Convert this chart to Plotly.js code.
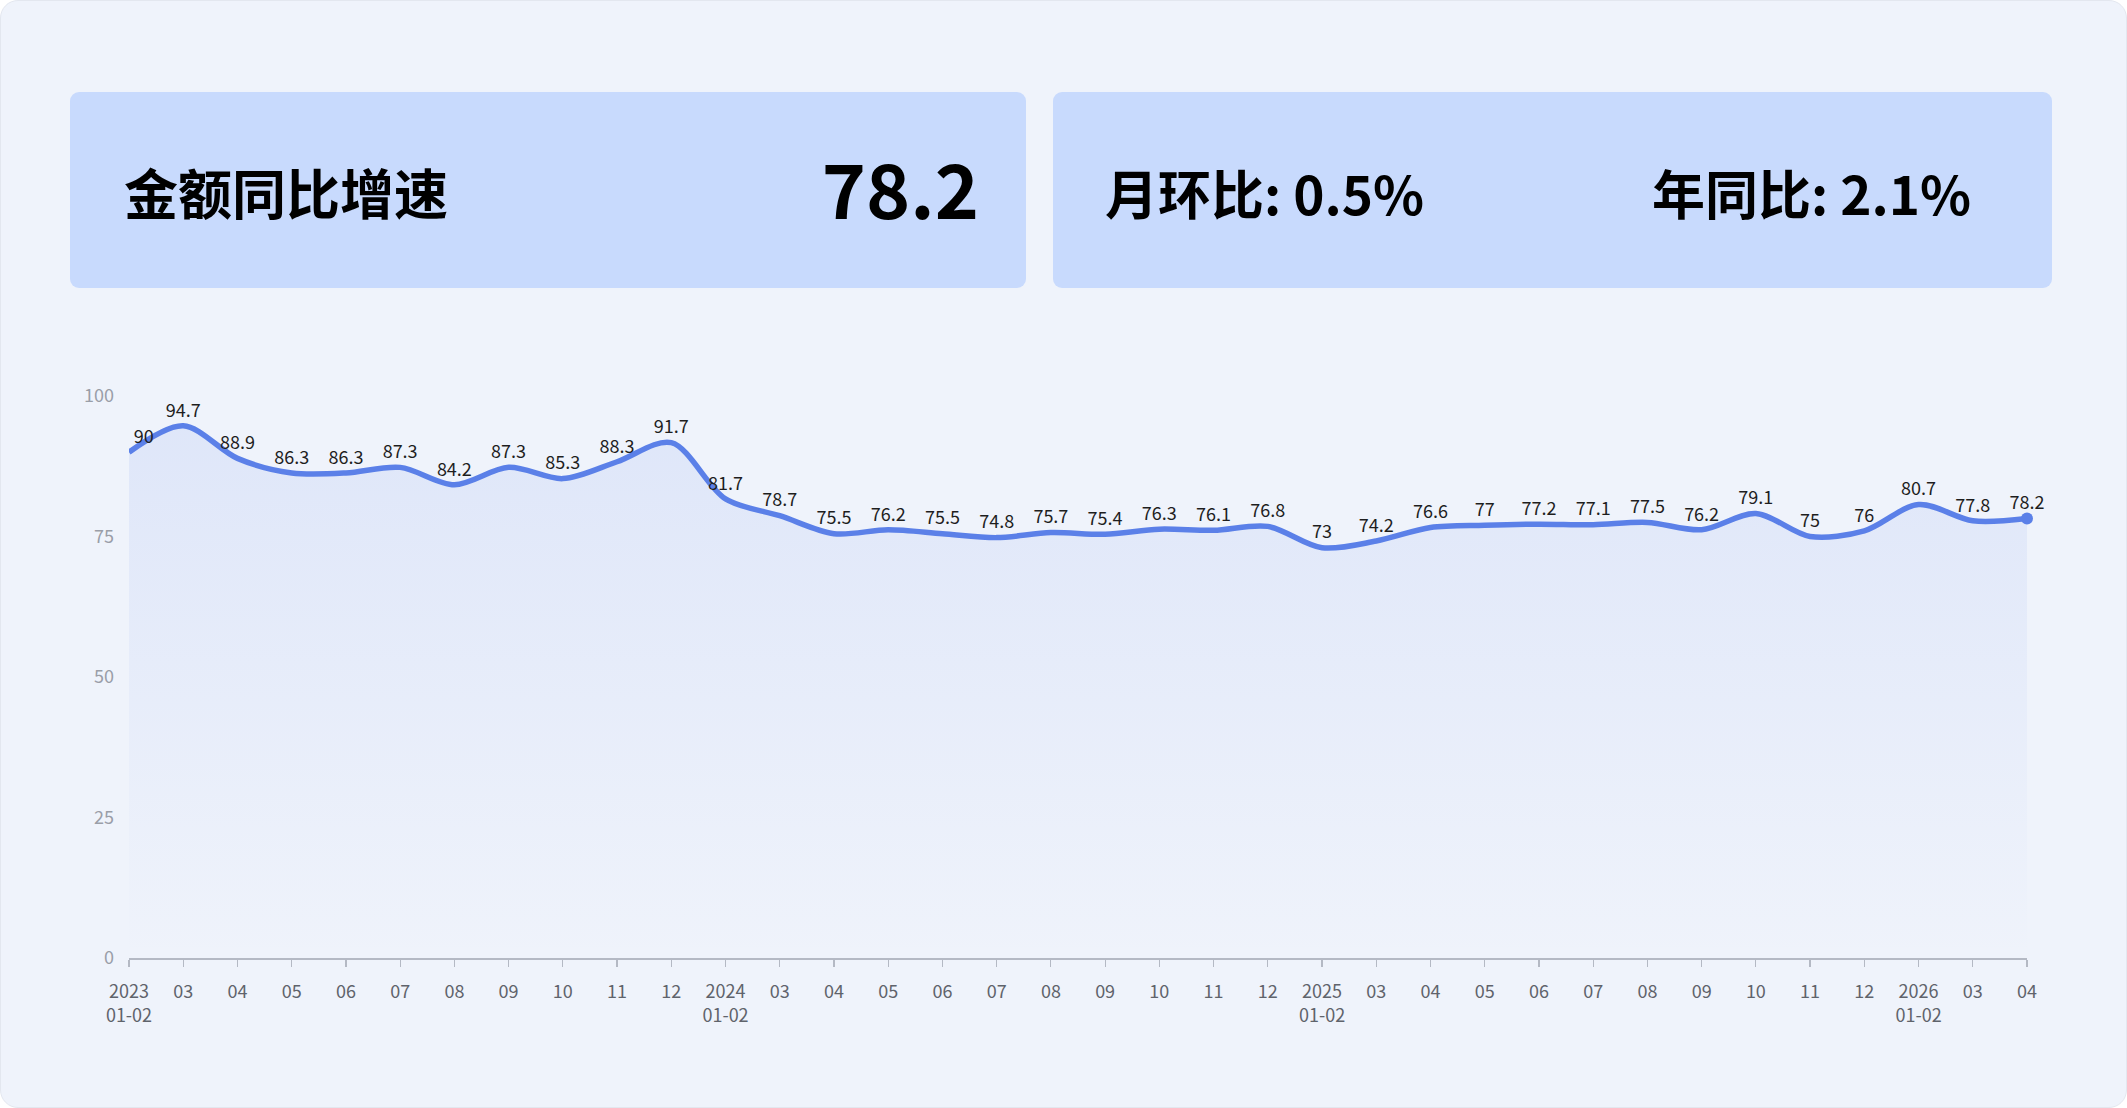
<!DOCTYPE html>
<html>
<head>
<meta charset="utf-8">
<script src="https://cdn.plot.ly/plotly-3.0.1.min.js"></script>
<style>
  html, body { margin:0; padding:0; background:#ffffff; width:2127px; height:1108px; overflow:hidden; }
  #frame { position:absolute; left:0; top:0; width:2125px; height:1106px; background:#eff3fb; border:1px solid #e3e7ef; border-radius:18px; }
  .card { position:absolute; top:92px; height:196px; background:#c8dafd; border-radius:9px; }
  .txt { position:absolute; font-family:"Noto Sans CJK SC","Noto Sans",sans-serif; font-weight:700; color:#000; white-space:nowrap; line-height:1; }
  #chart { position:absolute; left:0; top:0; width:2127px; height:1108px; }
</style>
</head>
<body>
<div id="frame"></div>
<div class="card" style="left:70px; width:956px;"></div>
<div class="card" style="left:1053px; width:999px;"></div>
<div class="txt" id="kpiTitle" style="left:124px; top:165px; font-size:54px;"></div>
<div class="txt" id="kpiValue" style="right:1148px; top:149px; font-size:75px;"></div>
<div class="txt" id="momText" style="left:1105px; top:166px; font-size:53px;"></div>
<div class="txt" id="yoyText" style="left:1652px; top:166px; font-size:53px;"></div>
<div id="chart"></div>
<script>
// ---- data ----
const categories = [
  '2023-01-02','2023-03','2023-04','2023-05','2023-06','2023-07','2023-08','2023-09','2023-10','2023-11','2023-12',
  '2024-01-02','2024-03','2024-04','2024-05','2024-06','2024-07','2024-08','2024-09','2024-10','2024-11','2024-12',
  '2025-01-02','2025-03','2025-04','2025-05','2025-06','2025-07','2025-08','2025-09','2025-10','2025-11','2025-12',
  '2026-01-02','2026-03','2026-04'
];
const tickLabels = [
  '2023<br>01-02','03','04','05','06','07','08','09','10','11','12',
  '2024<br>01-02','03','04','05','06','07','08','09','10','11','12',
  '2025<br>01-02','03','04','05','06','07','08','09','10','11','12',
  '2026<br>01-02','03','04'
];
const values = [
  90, 94.7, 88.9, 86.3, 86.3, 87.3, 84.2, 87.3, 85.3, 88.3, 91.7,
  81.7, 78.7, 75.5, 76.2, 75.5, 74.8, 75.7, 75.4, 76.3, 76.1, 76.8,
  73, 74.2, 76.6, 77, 77.2, 77.1, 77.5, 76.2, 79.1, 75, 76,
  80.7, 77.8, 78.2
];
const yTicks = [0, 25, 50, 75, 100];
const kpiTitle = '金额同比增速';
const kpiValue = '78.2';
const momLabel = '月环比', momValue = '0.5%';
const yoyLabel = '年同比', yoyValue = '2.1%';

// ---- header cards ----
document.getElementById('kpiTitle').textContent = kpiTitle;
document.getElementById('kpiValue').textContent = kpiValue;
document.getElementById('momText').textContent = momLabel + ': ' + momValue;
document.getElementById('yoyText').textContent = yoyLabel + ': ' + yoyValue;

// ---- chart ----
const lineColor = '#5b80e8';
const font = '"Noto Sans CJK SC","Noto Sans",sans-serif';
const textPos = values.map((v, i) => i === 0 ? 'top right' : 'top center');
const last = values.length - 1;

const traces = [
  {
    type: 'scatter',
    mode: 'lines+markers+text',
    x: categories,
    y: values,
    text: values.map(String),
    textposition: textPos,
    textfont: { family: font, size: 18, color: '#1e1e1e' },
    marker: { size: 6, color: 'rgba(0,0,0,0)', line: { width: 0 } },
    line: { color: lineColor, width: 5.5, shape: 'spline', smoothing: 0.9 },
    fill: 'tozeroy',
    fillcolor: 'rgba(91,128,232,0.06)',
    fillgradient: {
      type: 'vertical',
      start: 0,
      stop: 95,
      colorscale: [[0, 'rgba(91,128,232,0.0)'], [1, 'rgba(91,128,232,0.11)']]
    },
    cliponaxis: false,
    hoverinfo: 'skip'
  },
  {
    type: 'scatter',
    mode: 'markers',
    x: [categories[last]],
    y: [values[last]],
    marker: { color: lineColor, size: 12 },
    cliponaxis: false,
    hoverinfo: 'skip'
  }
];

const layout = {
  width: 2127,
  height: 1108,
  paper_bgcolor: 'rgba(0,0,0,0)',
  plot_bgcolor: 'rgba(0,0,0,0)',
  margin: { l: 129, r: 100, t: 396, b: 150, pad: 0 },
  showlegend: false,
  font: { family: font, size: 18, color: '#333' },
  xaxis: {
    type: 'category',
    range: [0, categories.length - 1],
    tickvals: categories,
    ticktext: tickLabels,
    showgrid: false,
    zeroline: false,
    showline: true,
    linecolor: '#b4b9c4',
    linewidth: 1.5,
    ticks: 'outside',
    ticklen: 7,
    tickwidth: 1.2,
    tickcolor: '#b4b9c4',
    tickangle: 0,
    ticklabelstandoff: 10,
    tickfont: { family: font, size: 18, color: '#5f636b' },
    fixedrange: true
  },
  yaxis: {
    range: [0, 100],
    tickvals: yTicks,
    ticktext: yTicks.map(String),
    showgrid: false,
    zeroline: false,
    showline: false,
    ticks: '',
    ticklabelstandoff: 14,
    tickfont: { family: font, size: 18, color: '#9a9ea8' },
    fixedrange: true
  }
};

Plotly.newPlot('chart', traces, layout, { displayModeBar: false, staticPlot: true });
</script>
</body>
</html>
